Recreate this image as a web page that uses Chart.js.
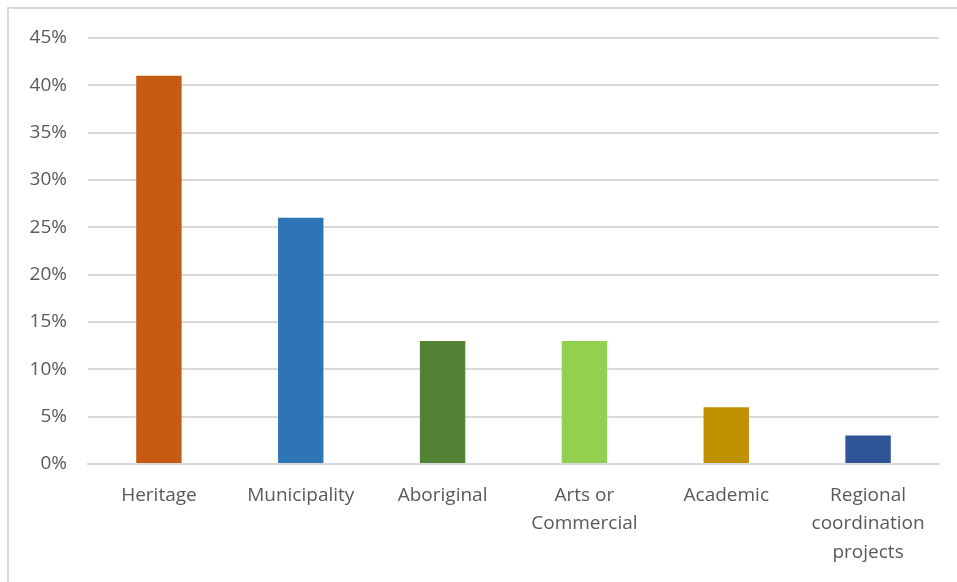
<!DOCTYPE html>
<html>
<head>
<meta charset="utf-8">
<script src="https://cdn.jsdelivr.net/npm/chart.js@4/dist/chart.umd.min.js"></script>
<style>
  html, body { margin: 0; padding: 0; background: #ffffff; overflow: hidden; }
  .frame {
    position: absolute; left: 7px; top: 7px; width: 960px; height: 590px;
    border-top: 2px solid #d9d9d9; border-left: 2px solid #d9d9d9;
  }
  .wrap { position: absolute; left: 0; top: 0; width: 957px; height: 582px; }
</style>
</head>
<body>
<div class="frame"></div>
<div class="wrap"><canvas id="chart"></canvas></div>
<script>
  // Data
  const categories = [
    'Heritage',
    'Municipality',
    'Aboriginal',
    ['Arts or', 'Commercial'],
    'Academic',
    ['Regional', 'coordination', 'projects'],
  ];
  const shares = [41, 26, 13, 13, 6, 3];
  const barColors = ['#C55A11', '#2E75B6', '#548235', '#92D050', '#BF9000', '#2F5597'];
  const yTicks = [0, 5, 10, 15, 20, 25, 30, 35, 40, 45];

  const textColor = '#595959';
  const gridColor = '#d9d9d9';
  const fontFamily = "'Open Sans', 'Liberation Sans', sans-serif";

  document.addEventListener('DOMContentLoaded', function () {
    const ctx = document.getElementById('chart').getContext('2d');

    new Chart(ctx, {
      type: 'bar',
      data: {
        labels: categories,
        datasets: [
          {
            data: shares,
            backgroundColor: barColors,
            borderWidth: 0,
            categoryPercentage: 1,
            barPercentage: 0.32,
          },
        ],
      },
      options: {
        responsive: true,
        maintainAspectRatio: false,
        animation: false,
        layout: { padding: { left: 0, right: 18, top: 38, bottom: 0 } },
        plugins: {
          legend: { display: false },
          tooltip: { enabled: false },
        },
        scales: {
          x: {
            grid: { display: false, drawTicks: false },
            border: { display: true, color: gridColor, width: 2 },
            ticks: {
              color: textColor,
              font: { family: fontFamily, size: 19, lineHeight: 1.5 },
              padding: 17,
              maxRotation: 0,
              autoSkip: false,
            },
            afterFit: (scale) => { scale.height = 118; },
          },
          y: {
            min: 0,
            max: 45,
            afterBuildTicks: (scale) => {
              scale.ticks = yTicks.map((v) => ({ value: v }));
            },
            grid: { color: gridColor, lineWidth: 2, drawTicks: false },
            border: { display: false },
            ticks: {
              color: textColor,
              font: { family: fontFamily, size: 19 },
              padding: 21,
              callback: (v) => v + '%',
            },
            afterFit: (scale) => { scale.width = 88; },
          },
        },
      },
    });
  });
</script>
</body>
</html>
